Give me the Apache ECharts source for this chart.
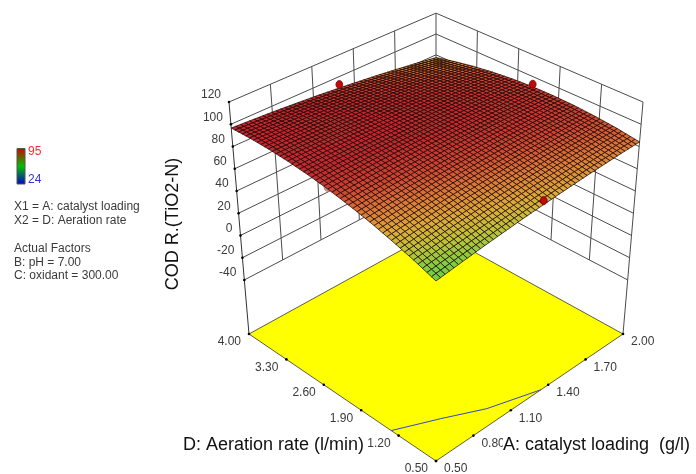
<!DOCTYPE html>
<html>
<head>
<meta charset="utf-8">
<style>html,body{margin:0;padding:0;background:#fff}#c{width:696px;height:474px}</style>
<script src="https://cdn.jsdelivr.net/npm/echarts@6/dist/echarts.min.js"></script>
</head>
<body>
<div id="c"></div>
<script>
// ---------- chart data ----------
const zTicks = [120, 100, 80, 60, 40, 20, 0, -20, -40];
const aTicks = ['0.50', '0.80', '1.10', '1.40', '1.70', '2.00'];
const dTicks = ['0.50', '1.20', '1.90', '2.60', '3.30', '4.00'];
const aAxisTitle = 'A: catalyst loading  (g/l)';
const dAxisTitle = 'D: Aeration rate (l/min)';
const zAxisTitle = 'COD R.(TiO2-N)';
const legendHigh = 95;
const legendLow = 24;
const noteLines = ['X1 = A: catalyst loading', 'X2 = D: Aeration rate', '', 'Actual Factors', 'B: pH = 7.00', 'C: oxidant = 300.00'];
// A from 0.50 to 2.00 by row, D from 0.50 to 4.00 by column
const surfaceA = [0.50, 0.65, 0.80, 0.95, 1.10, 1.25, 1.40, 1.55, 1.70, 1.85, 2.00];
const surfaceD = [0.50, 0.85, 1.20, 1.55, 1.90, 2.25, 2.60, 2.95, 3.30, 3.65, 4.00];
const surfaceZ = [
  [66.8, 73.4, 79.1, 84.2, 88.4, 92.0, 94.7, 96.7, 97.9, 98.4, 98.1],
  [69.6, 75.8, 81.2, 85.9, 89.8, 92.9, 95.3, 96.9, 97.7, 97.8, 97.1],
  [72.3, 78.1, 83.1, 87.4, 90.9, 93.6, 95.6, 96.9, 97.3, 97.0, 96.0],
  [74.7, 80.1, 84.8, 88.7, 91.8, 94.2, 95.8, 96.6, 96.7, 96.1, 94.6],
  [77.0, 82.0, 86.3, 89.8, 92.5, 94.5, 95.7, 96.2, 95.9, 94.9, 93.1],
  [79.0, 83.7, 87.5, 90.7, 93.0, 94.7, 95.5, 95.6, 94.9, 93.5, 91.3],
  [80.8, 85.1, 88.6, 91.4, 93.4, 94.6, 95.1, 94.8, 93.7, 91.9, 89.3],
  [82.5, 86.4, 89.5, 91.9, 93.5, 94.3, 94.4, 93.8, 92.3, 90.1, 87.2],
  [83.9, 87.4, 90.2, 92.2, 93.4, 93.9, 93.6, 92.5, 90.7, 88.2, 84.8],
  [85.2, 88.3, 90.7, 92.3, 93.1, 93.2, 92.5, 91.1, 88.9, 86.0, 82.3],
  [86.2, 89.0, 90.9, 92.2, 92.6, 92.4, 91.3, 89.5, 86.9, 83.6, 79.5]
];
const pointA = [1.25, 2.00, 1.25];
const pointD = [4.00, 2.25, 0.50];
const pointZ = [94.3, 94.6, 82.4];
const hiddenPointA = [0.50];
const hiddenPointD = [2.25];
const hiddenPointZ = [93.3];
const contourA = [0.50, 0.75, 0.98, 1.30];
const contourD = [1.27, 1.00, 0.73, 0.50];

// ---------- view ----------
const W = 696, H = 474, FONT = '"Liberation Sans", Arial, sans-serif';
const CX = 436, KX = 208.8, G = 0.1165, HZ = -0.1079, Y0 = 461, PY = -88.1, QY = -270;
const zFloor = -93.8, zSpan = 213.8;
const SUB = 5;
const normA = v => (v - 0.5) / 1.5;
const normD = v => (v - 0.5) / 3.5;
function project(a, b, z) {
  const s = a - b, t = a + b, q = (z - zFloor) / zSpan;
  const w = 1 + G * t + HZ * q;
  return [CX + KX * s / w, (Y0 + PY * t + QY * q) / w];
}
const lerp = (p, q, t) => [p[0] + (q[0] - p[0]) * t, p[1] + (q[1] - p[1]) * t];
const zTop = zTicks[0], zBottom = zTicks[zTicks.length - 1];
const cornerL = project(0, 1, zFloor), cornerR = project(1, 0, zFloor), cornerF = project(0, 0, zFloor), cornerB = project(1, 1, zFloor);
const edgeAt = (a, b, i) => lerp(project(a, b, zTop), project(a, b, zBottom), i / (zTicks.length - 1));

const stops = [[64, 100, 205, 70], [70, 125, 205, 65], [76, 190, 195, 55], [81, 220, 170, 55], [86, 220, 125, 55], [91, 205, 70, 50], [95, 190, 42, 45]];
function colorOf(z) {
  let i = 0;
  while (i < stops.length - 2 && z > stops[i + 1][0]) i++;
  const p = stops[i], q = stops[i + 1];
  const t = Math.max(0, Math.min(1, (z - p[0]) / (q[0] - p[0])));
  return 'rgb(' + [1, 2, 3].map(k => Math.round(p[k] + (q[k] - p[k]) * t)).join(',') + ')';
}

function series(name, data, fn) {
  return {
    type: 'custom', name, coordinateSystem: 'cartesian2d', data: data.map((d, i) => [i]),
    silent: true, animation: false, clip: false, progressive: 0,
    renderItem: (params, api) => fn(data[params.dataIndex], params.dataIndex, p => api.coord(p))
  };
}
const lineEl = (c, p, q, color, w) => {
  const a = c(p), b = c(q);
  return { type: 'line', shape: { x1: a[0], y1: a[1], x2: b[0], y2: b[1] }, style: { stroke: color, lineWidth: w } };
};
const textEl = (c, p, str, opt) => {
  const a = c(p);
  return { type: 'text', x: a[0], y: a[1], rotation: opt.rotation || 0, style: Object.assign({
    text: str, x: 0, y: 0, font: opt.font || '12px ' + FONT, fill: opt.fill || '#3a3a3a',
    textAlign: opt.align || 'left', textVerticalAlign: 'middle', align: opt.align || 'left', verticalAlign: 'middle'
  }, opt.bg ? { backgroundColor: opt.bg, padding: opt.pad || 0 } : {}) };
};
const dotEl = (c, p, r, fill, stroke) => {
  const a = c(p);
  return { type: 'ellipse', shape: { cx: a[0], cy: a[1], rx: r, ry: r + 0.6 }, style: { fill, stroke, lineWidth: 0.8 } };
};
const tickEl = (c, p) => {
  const a = c(p);
  return { type: 'circle', shape: { cx: a[0], cy: a[1], r: 1.3 }, style: { fill: '#000' } };
};

// ---------- walls ----------
const WALL = '#4c4c4c';
const wallZ = zTicks.map((z, i) => i);
const wallCols = [1, 2, 3, 4];
const wallSeries = series('walls', wallZ, (i, k, c) => {
  const back = edgeAt(1, 1, i);
  return { type: 'group', children: [
    lineEl(c, edgeAt(0, 1, i), back, WALL, 1),
    lineEl(c, back, edgeAt(1, 0, i), WALL, 1)
  ] };
});
const wallColSeries = series('wallColumns', wallCols, (i, k, c) => {
  const t = i / 5, last = zTicks.length - 1;
  return { type: 'group', children: [
    lineEl(c, lerp(edgeAt(0, 1, 0), edgeAt(1, 1, 0), t), lerp(edgeAt(0, 1, last), edgeAt(1, 1, last), t), WALL, 1),
    lineEl(c, lerp(edgeAt(1, 1, 0), edgeAt(1, 0, 0), t), lerp(edgeAt(1, 1, last), edgeAt(1, 0, last), t), WALL, 1)
  ] };
});
const edgeSeries = series('edges', [0], (d, k, c) => ({ type: 'group', children: [
  lineEl(c, project(0, 1, zTop), cornerL, '#333', 1),
  lineEl(c, project(1, 0, zTop), cornerR, '#4c4c4c', 1),
  lineEl(c, project(1, 1, zTop), project(1, 1, zBottom), WALL, 1)
] }));

// ---------- floor ----------
const floorSeries = series('floor', [0], (d, k, c) => ({ type: 'group', children: [
  { type: 'polygon', shape: { points: [cornerF, cornerL, cornerB, cornerR].map(c) }, style: { fill: '#ffff00', stroke: '#333', lineWidth: 0.8 } }
] }));
const contourSeries = series('contour', [0], (d, k, c) => ({
  type: 'polyline',
  shape: { points: contourA.map((v, i) => c(project(normA(v), normD(contourD[i]), zFloor))) },
  style: { stroke: '#3344c8', lineWidth: 1, fill: 'none' }
}));

// ---------- surface, back to front ----------
const cells = [];
for (let i = surfaceA.length - 2; i >= 0; i--) for (let j = surfaceD.length - 2; j >= 0; j--) cells.push([i, j]);
const surfaceSeries = series('surface', cells, (cell, k, c) => {
  const i = cell[0], j = cell[1], n = surfaceA.length - 1, m = surfaceD.length - 1;
  const z00 = surfaceZ[i][j], z01 = surfaceZ[i][j + 1], z10 = surfaceZ[i + 1][j], z11 = surfaceZ[i + 1][j + 1];
  const at = (u, v) => {
    const z = z00 * (1 - u) * (1 - v) + z01 * (1 - u) * v + z10 * u * (1 - v) + z11 * u * v;
    return { z, p: project((i + u) / n, (j + v) / m, z) };
  };
  const children = [];
  for (let su = SUB - 1; su >= 0; su--) for (let sv = SUB - 1; sv >= 0; sv--) {
    const q = [at(su / SUB, sv / SUB), at((su + 1) / SUB, sv / SUB), at((su + 1) / SUB, (sv + 1) / SUB), at(su / SUB, (sv + 1) / SUB)];
    children.push({ type: 'polygon', shape: { points: q.map(o => c(o.p)) },
      style: { fill: colorOf((q[0].z + q[1].z + q[2].z + q[3].z) / 4), stroke: 'rgba(25,0,0,0.85)', lineWidth: 0.85 } });
  }
  return { type: 'group', children };
});

// ---------- design points ----------
const hiddenPoints = series('pointsBehind', hiddenPointA, (v, k, c) =>
  dotEl(c, project(normA(v), normD(hiddenPointD[k]), hiddenPointZ[k]), 3.4, '#dc8f92', '#b07070'));
const points = series('points', pointA, (v, k, c) =>
  dotEl(c, project(normA(v), normD(pointD[k]), pointZ[k]), 3.4, '#c40808', '#6a0808'));

// ---------- ticks and labels ----------
const zLabels = series('zTicks', zTicks, (z, k, c) => {
  const p = edgeAt(0, 1, k);
  return { type: 'group', children: [
    tickEl(c, p),
    textEl(c, [p[0] - 8, p[1] - 7], String(z), { align: 'right' })
  ] };
});
const dLabels = series('dTicks', dTicks, (v, k, c) => {
  const p = lerp(cornerF, cornerL, k / (dTicks.length - 1));
  return { type: 'group', children: [
    tickEl(c, p),
    textEl(c, [p[0] - 8, p[1] + 8], v, { align: 'right' })
  ] };
});
const aLabels = series('aTicks', aTicks, (v, k, c) => {
  const p = lerp(cornerF, cornerR, k / (aTicks.length - 1));
  return { type: 'group', children: [
    tickEl(c, p),
    textEl(c, [p[0] + 8, p[1] + 8], v, {})
  ] };
});
const titles = series('axisTitles', [0], (d, k, c) => ({ type: 'group', children: [
  textEl(c, [503, 445], aAxisTitle, { font: '18px ' + FONT, fill: '#111', bg: '#fff' }),
  textEl(c, [183, 445], dAxisTitle, { font: '18px ' + FONT, fill: '#111' }),
  textEl(c, [173, 224], zAxisTitle, { font: '18px ' + FONT, fill: '#111', align: 'center', rotation: Math.PI / 2 })
] }));

// ---------- colour key and notes ----------
const keySeries = series('key', [0], (d, k, c) => {
  const a = c([17, 148.5]), b = c([25, 184]);
  return { type: 'group', children: [
    { type: 'rect', shape: { x: a[0], y: a[1], width: b[0] - a[0], height: b[1] - a[1] },
      style: { stroke: '#555', lineWidth: 1, fill: { type: 'linear', x: 0, y: 0, x2: 0, y2: 1, colorStops: [
        { offset: 0, color: '#d40000' }, { offset: 0.5, color: '#00c000' }, { offset: 1, color: '#0000d0' } ] } } },
    textEl(c, [28, 152], String(legendHigh), { fill: '#f03030' }),
    textEl(c, [28, 180], String(legendLow), { fill: '#3030f0' })
  ] };
});
const notes = series('notes', noteLines, (s, k, c) => textEl(c, [14, 207 + 13.8 * k], s, {}));

const chart = echarts.init(document.getElementById('c'), null, { renderer: 'canvas', width: W, height: H });
chart.setOption({
  animation: false,
  backgroundColor: '#fff',
  grid: { left: 0, right: 0, top: 0, bottom: 0 },
  xAxis: { type: 'value', min: 0, max: W, show: false },
  yAxis: { type: 'value', min: 0, max: H, inverse: true, show: false },
  series: [wallSeries, wallColSeries, edgeSeries, floorSeries, contourSeries, hiddenPoints, surfaceSeries, points,
    zLabels, dLabels, aLabels, titles, keySeries, notes]
});
</script>
</body>
</html>
